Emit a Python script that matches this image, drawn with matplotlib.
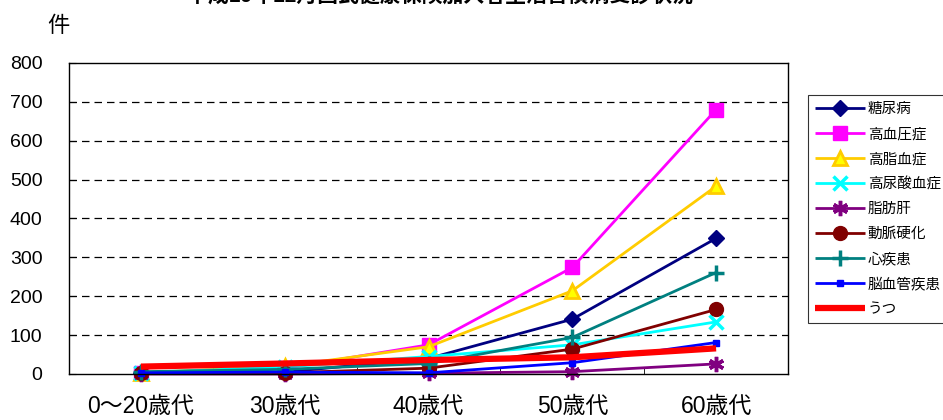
import matplotlib
matplotlib.use("Agg")
import matplotlib.pyplot as plt

plt.rcParams['font.family'] = ['Liberation Sans', 'Noto Sans CJK JP', 'DejaVu Sans']

title = "平成19年12月国民健康保険加入者生活習慣病受診状況"
categories = ["0〜20歳代", "30歳代", "40歳代", "50歳代", "60歳代"]
y_ticks = [0, 100, 200, 300, 400, 500, 600, 700, 800]

diabetes = [2, 5, 40, 141, 349]
hypertension = [3, 15, 75, 274, 680]
hyperlipidemia = [3, 20, 70, 214, 483]
hyperuricemia = [3, 18, 45, 75, 134]
fatty_liver = [0, 0, 2, 6, 26]
arteriosclerosis = [2, 3, 15, 64, 166]
heart_disease = [6, 12, 27, 94, 261]
cerebrovascular = [3, 5, 3, 29, 81]
depression = [19, 27, 36, 43, 66]

series = [
    ("糖尿病", diabetes, dict(color="#000080", marker="D", ms=8, mfc="#000080", mec="#000080", lw=2)),
    ("高血圧症", hypertension, dict(color="#FF00FF", marker="s", ms=10, mfc="#FF00FF", mec="#FF00FF", lw=2)),
    ("高脂血症", hyperlipidemia, dict(color="#FFCC00", marker="^", ms=10, mfc="#FFFF00", mec="#FFCC00", mew=2, lw=2)),
    ("高尿酸血症", hyperuricemia, dict(color="#00FFFF", marker="x", ms=10, mec="#00FFFF", mew=2.5, lw=2)),
    ("脂肪肝", fatty_liver, dict(color="#800080", marker=(6, 2, 0), ms=11, mec="#800080", mew=2.5, lw=2)),
    ("動脈硬化", arteriosclerosis, dict(color="#800000", marker="o", ms=10, mfc="#800000", mec="#800000", lw=2)),
    ("心疾患", heart_disease, dict(color="#008080", marker="+", ms=11, mec="#008080", mew=2.5, lw=2)),
    ("脳血管疾患", cerebrovascular, dict(color="#0000FF", marker="s", ms=4, mfc="#0000FF", mec="#0000FF", lw=2)),
    ("うつ", depression, dict(color="#FF0000", marker=None, lw=4.5)),
]

fig = plt.figure(figsize=(9.43, 4.2), dpi=100)
ax = fig.add_axes([69 / 943, 46 / 420, 719 / 943, 311 / 420])

x = list(range(len(categories)))
for name, vals, style in series:
    ax.plot(x, vals, label=name, clip_on=False, solid_capstyle="butt", **style)

ax.set_xlim(-0.5, len(categories) - 0.5)
ax.set_ylim(0, 800)
ax.set_yticks(y_ticks)
ax.set_yticklabels([str(v) for v in y_ticks], fontsize=14)
ax.set_xticks(x)
ax.set_xticklabels(categories, fontsize=16.5)
ax.set_xticks([i + 0.5 for i in x[:-1]], minor=True)
ax.tick_params(axis="x", which="major", length=0, pad=15)
ax.tick_params(axis="x", which="minor", direction="in", length=5, color="black")
ax.tick_params(axis="y", direction="in", length=5, pad=19)

for v in y_ticks[1:-1]:
    ax.axhline(v, color="black", lw=0.9, ls=(0, (6, 4)), zorder=0)

for s in ax.spines.values():
    s.set_color("black")
    s.set_linewidth(1.0)

fig.text(58 / 943, 1 - 27 / 420, "件", fontsize=16, ha="center", va="center")
fig.text(440 / 943, 1 + 4 / 420, title, fontsize=15, ha="center", va="center", fontweight="bold")

leg = fig.legend(loc="upper left", bbox_to_anchor=(808 / 943, 1 - 95 / 420),
                 fontsize=10.5, frameon=True, fancybox=False, handlelength=3.4,
                 handletextpad=0.2, labelspacing=0.75, borderpad=0.5,
                 borderaxespad=0)
leg.get_frame().set_edgecolor("black")
leg.get_frame().set_linewidth(0.8)

fig.savefig("out.png", dpi=100)
